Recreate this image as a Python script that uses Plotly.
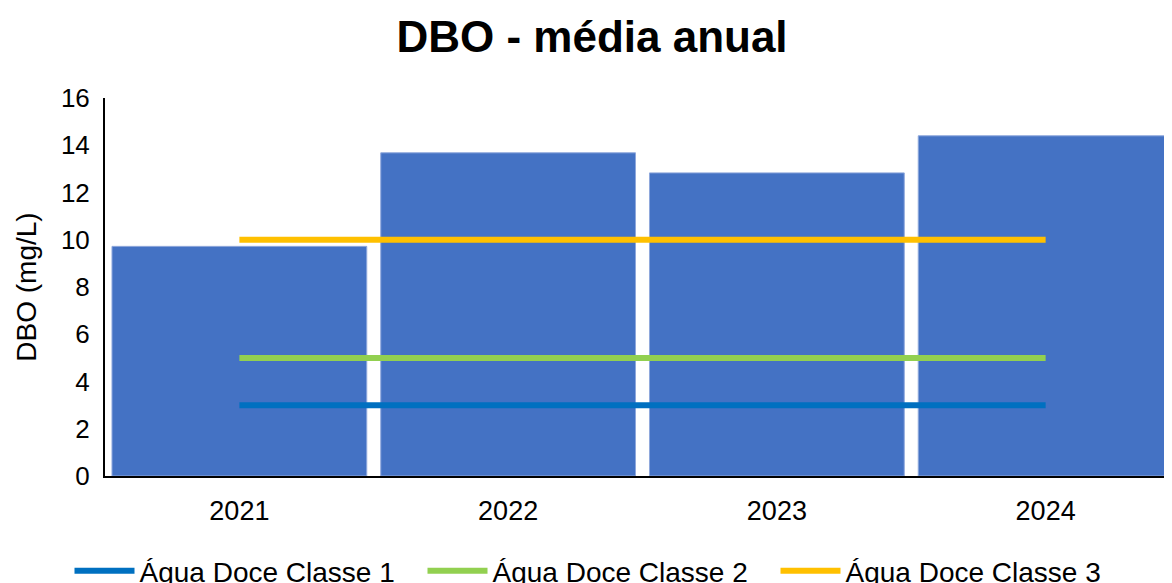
import plotly.graph_objects as go

years = ["2021", "2022", "2023", "2024"]
dbo_media = [9.72, 13.68, 12.83, 14.4]
classe1 = [3, 3, 3, 3]
classe2 = [5, 5, 5, 5]
classe3 = [10, 10, 10, 10]
y_ticks = [0, 2, 4, 6, 8, 10, 12, 14, 16]

FONT = "Liberation Sans, Arial, sans-serif"

fig = go.Figure()
fig.add_trace(go.Bar(x=years, y=dbo_media, name="DBO média",
                     marker=dict(color="#4472C4", line=dict(color="#8FA8DC", width=1)),
                     showlegend=False))
for name, vals, col in [("Água Doce Classe 1", classe1, "#0070C0"),
                        ("Água Doce Classe 2", classe2, "#92D050"),
                        ("Água Doce Classe 3", classe3, "#FFC000")]:
    fig.add_trace(go.Scatter(x=years, y=vals, mode="lines", name=name,
                             line=dict(color=col, width=6)))

fig.update_layout(
    width=1172, height=583,
    margin=dict(l=97, r=0, t=90, b=115),
    plot_bgcolor="white", paper_bgcolor="white",
    bargap=0.052,
    font=dict(family=FONT, color="#000000"),
    title=dict(text="<b>DBO - média anual</b>", x=584 / 1172, xref="container", xanchor="center",
               y=1 - 29 / 583, yref="container", yanchor="middle",
               font=dict(size=44, family=FONT, color="#000000")),
    xaxis=dict(type="category", range=[-0.5, 3.5], showgrid=False, showline=True,
               linecolor="#000000", linewidth=2, ticks="", tickfont=dict(size=27),
               ticklabelstandoff=10),
    yaxis=dict(range=[0, 16], tickvals=y_ticks, showgrid=False, showline=True,
               linecolor="#000000", linewidth=2, ticks="", tickfont=dict(size=26),
               zeroline=False, ticklabelstandoff=8,
               title=dict(text="DBO (mg/L)", font=dict(size=28), standoff=16)),
    legend=dict(orientation="h", xref="container", yref="container",
                x=591 / 1172, xanchor="center", y=(583 - 563) / 583, yanchor="middle",
                font=dict(size=28), itemwidth=60, entrywidth=278,
                bgcolor="rgba(0,0,0,0)"),
)

fig.write_html("out.html")
